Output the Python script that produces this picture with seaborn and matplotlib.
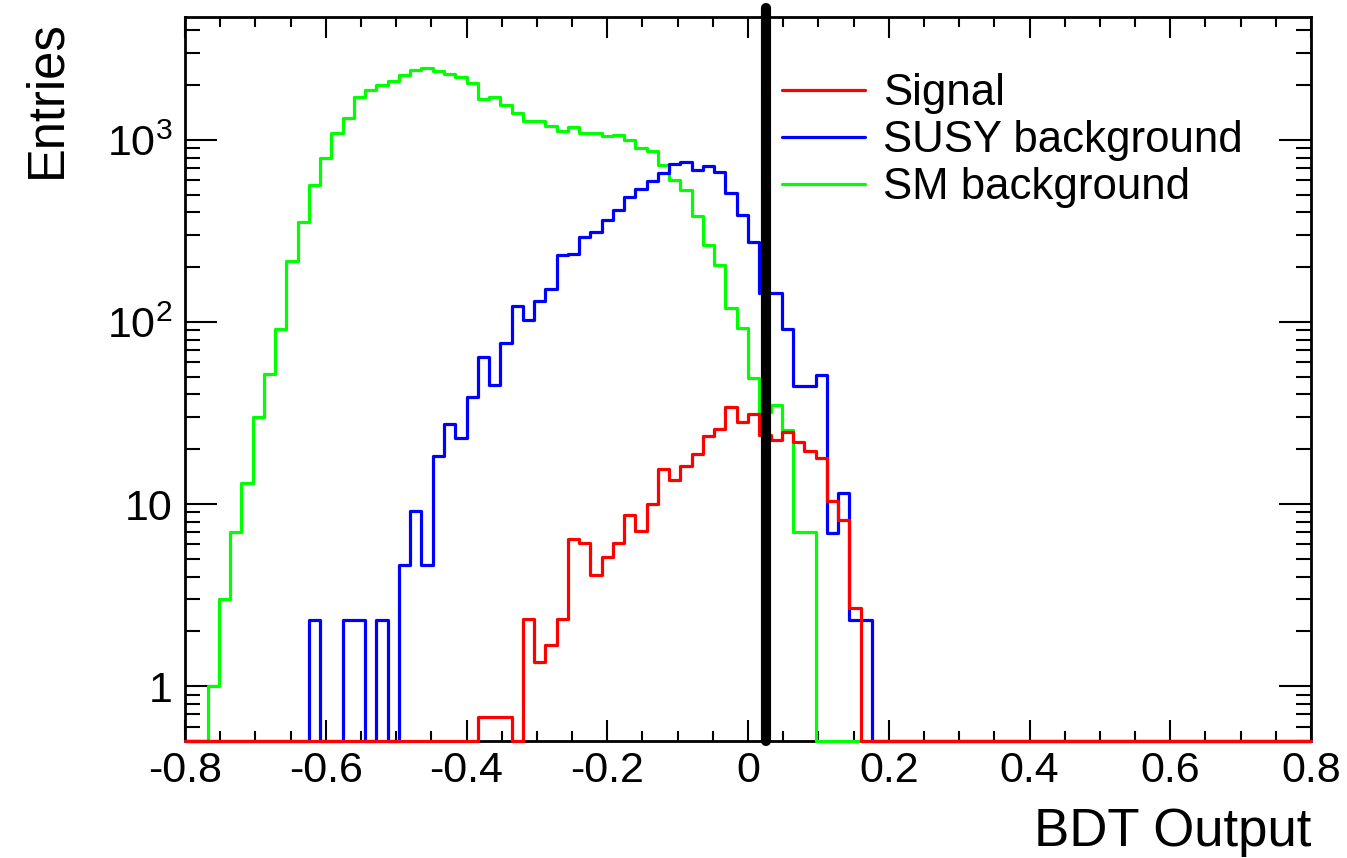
# -*- coding: utf-8 -*-

# %% import functions
import numpy as np
import pandas as pd
import matplotlib
matplotlib.use('Agg')
import matplotlib.pyplot as plt
from matplotlib.lines import Line2D
from matplotlib.ticker import MultipleLocator, FixedLocator, LogLocator, NullFormatter
import seaborn as sns

# %% data: BDT output histograms, 100 bins from -0.8 to 0.8 (bin contents per bin)
x_lo, x_hi, n_bins = -0.8, 0.8, 100

sm_background = [
    0, 0, 1, 3, 7, 13, 30, 52, 92, 215,
    356, 562, 797, 1088, 1325, 1710, 1880, 1990, 2100, 2265,
    2427, 2467, 2385, 2308, 2203, 2060, 1680, 1718, 1553, 1403,
    1274, 1270, 1197, 1119, 1170, 1094, 1094, 1057, 1068, 1000,
    908, 868, 724, 601, 528, 383, 265, 206, 119, 93,
    49, 32, 35, 25.5, 7, 7, 0, 0, 0, 0,
] + [0] * 40

susy_background = [
    0, 0, 0, 0, 0, 0, 0, 0, 0, 0,
    0, 2.3, 0, 0, 2.3, 2.3, 0, 2.3, 0, 4.6,
    9.2, 4.6, 18.3, 27.7, 23.2, 38.8, 64.6, 44.8, 76.5, 122,
    103, 131, 151, 234, 237, 294, 311, 362, 412, 485,
    537, 591, 662, 733, 754, 681, 720, 666, 513, 387,
    276, 144, 144, 92, 44.3, 44.3, 51, 6.9, 11.5, 2.3,
    2.3,
] + [0] * 39

signal = [
    0, 0, 0, 0, 0, 0, 0, 0, 0, 0,
    0, 0, 0, 0, 0, 0, 0, 0, 0, 0,
    0, 0, 0, 0, 0, 0, 0.68, 0.68, 0.68, 0,
    2.35, 1.36, 1.69, 2.35, 6.4, 6.1, 4.06, 5.1, 6.1, 8.7,
    7.1, 10, 15.5, 13.5, 16.2, 18.8, 23.7, 25.9, 34, 28.4,
    31.2, 24.1, 22.4, 25, 21.9, 19.5, 17.8, 10.4, 8.2, 2.7,
] + [0] * 40

cut_value = 0.025
y_min, y_max = 0.5, 4730

sample_names = ['Signal', 'SUSY background', 'SM background']
sample_colors = ['#ff0000', '#0000ff', '#00ff00']

x_ticks = [-0.8, -0.6, -0.4, -0.2, 0, 0.2, 0.4, 0.6, 0.8]
x_tick_labels = ['-0.8', '-0.6', '-0.4', '-0.2', '0', '0.2', '0.4', '0.6', '0.8']
y_ticks = [1, 10, 100, 1000]
y_tick_labels = ['1', '10', '$10^{2}$', '$10^{3}$']

# %% build one long dataframe
edges = np.linspace(x_lo, x_hi, n_bins + 1)
centers = 0.5 * (edges[:-1] + edges[1:])
df = pd.concat([
    pd.DataFrame({'bdt': centers, 'entries': vals, 'sample': name})
    for name, vals in zip(sample_names, [signal, susy_background, sm_background])
], ignore_index=True)
# empty bins are drawn on the bottom of the frame, like ROOT does
df['entries_drawn'] = df['entries'].clip(lower=y_min)

# %% style
sns.set_style('ticks')
plt.rcParams['font.family'] = ['Liberation Sans', 'DejaVu Sans']
plt.rcParams['mathtext.fontset'] = 'custom'
plt.rcParams['mathtext.rm'] = 'Liberation Sans'
plt.rcParams['mathtext.it'] = 'Liberation Sans:italic'
plt.rcParams['axes.unicode_minus'] = False
for key in ['text.color', 'axes.labelcolor', 'xtick.color', 'ytick.color', 'axes.edgecolor']:
    plt.rcParams[key] = 'black'

fig = plt.figure(figsize=(13.47, 8.58), dpi=100)
ax = fig.add_axes([185 / 1347, 1 - 741 / 858, (1311 - 185) / 1347, (741 - 17) / 858])

# draw SM first, signal last (on top)
for name, color in list(zip(sample_names, sample_colors))[::-1]:
    sns.histplot(data=df[df['sample'] == name], x='bdt', weights='entries_drawn',
                 bins=n_bins, binrange=(x_lo, x_hi), element='step', fill=False,
                 color=color, linewidth=2.3, ax=ax)
# let the empty-bin floor show on top of the frame
for ln in ax.lines:
    ln.set_clip_on(False)
    ln.set_zorder(3)

ax.axvline(cut_value, ymin=0, ymax=1.012, color='black', lw=7.3, clip_on=False, zorder=5)

ax.set_yscale('log')
ax.set_xlim(x_lo, x_hi)
ax.set_ylim(y_min, y_max)

ax.xaxis.set_major_locator(FixedLocator(x_ticks))
ax.set_xticklabels(x_tick_labels)
ax.xaxis.set_minor_locator(MultipleLocator(0.05))
ax.yaxis.set_major_locator(FixedLocator(y_ticks))
ax.set_yticklabels(y_tick_labels)
ax.yaxis.set_minor_locator(LogLocator(base=10, subs=np.arange(2, 10)))
ax.yaxis.set_minor_formatter(NullFormatter())

ax.tick_params(axis='both', which='both', direction='in', top=True, right=True,
               labelsize=31, width=1.5, color='black', labelcolor='black')
ax.tick_params(axis='x', which='major', length=15, pad=7)
ax.tick_params(axis='x', which='minor', length=7.5)
ax.tick_params(axis='y', which='major', length=23, pad=9)
ax.tick_params(axis='y', which='minor', length=11)
for sp in ax.spines.values():
    sp.set_linewidth(2)
    sp.set_color('black')

ax.set_xlabel('BDT Output', fontsize=38, loc='right')
ax.xaxis.set_label_coords(1.0, -0.0905)
ax.set_ylabel('Entries', fontsize=36.5, loc='top')
ax.yaxis.set_label_coords(-0.101, 0.995)

handles = [Line2D([], [], color=c, lw=2.3) for c in sample_colors]
ax.legend(handles, sample_names, loc='upper left', bbox_to_anchor=(0.530, 0.922),
          frameon=False, fontsize=31.5, handlelength=1.9, handletextpad=0.41,
          labelspacing=0.137, borderpad=0, borderaxespad=0)

plt.savefig('out.png', dpi=100)
